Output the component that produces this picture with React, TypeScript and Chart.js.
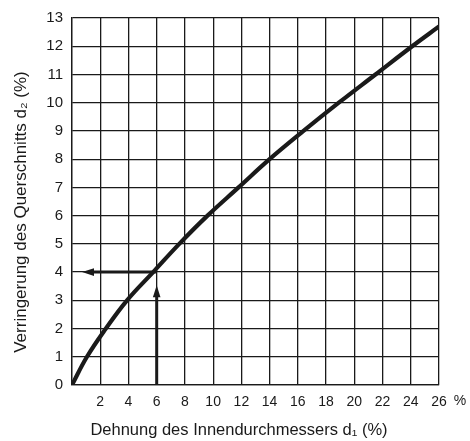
import React, { useEffect, useRef } from "react";
import { Chart, registerables } from "chart.js";

Chart.register(...registerables);

// Dehnung des Innendurchmessers d1 (%)
const xValues = [0, 1.06, 2.4, 3.9, 5.75, 7.6, 9.6, 11.8, 14, 16.4, 18.9, 21.5, 24.1, 26];
// Verringerung des Querschnitts d2 (%)
const yValues = [0, 1, 2, 3, 4, 5, 6, 7, 8, 9, 10, 11, 12, 12.7];

const xTicks = [2, 4, 6, 8, 10, 12, 14, 16, 18, 20, 22, 24, 26];
const yTicks = [0, 1, 2, 3, 4, 5, 6, 7, 8, 9, 10, 11, 12, 13];

const xTitle = "Dehnung des Innendurchmessers d\u2081 (%)";
const yTitle = "Verringerung des Querschnitts d\u2082 (%)";
const xUnit = "%";

// reading example arrows: vertical from (6,0) to tip (6,3.53); horizontal from (6,4) to tip (0.71,4)
const arrowUp = { x: 6, yFrom: 0, yTip: 3.53 };
const arrowLeft = { y: 4, xFrom: 6, xTip: 0.71 };

const FONT = "'Liberation Sans', Arial, Helvetica, sans-serif";
const INK = "#1a1a1a";

const overlay = {
  id: "overlay",
  afterDatasetsDraw(chart: any) {
    const { ctx, scales } = chart;
    const xs = scales.x;
    const ys = scales.y;
    const headLen = 12;
    const headHalf = 3.8;
    ctx.save();
    ctx.strokeStyle = INK;
    ctx.fillStyle = INK;
    ctx.lineWidth = 3;
    ctx.lineCap = "butt";

    // vertical arrow
    const vx = xs.getPixelForValue(arrowUp.x);
    const vy0 = ys.getPixelForValue(arrowUp.yFrom);
    const vyt = ys.getPixelForValue(arrowUp.yTip);
    ctx.beginPath();
    ctx.moveTo(vx, vy0);
    ctx.lineTo(vx, vyt + headLen - 1);
    ctx.stroke();
    ctx.beginPath();
    ctx.moveTo(vx, vyt);
    ctx.lineTo(vx - headHalf, vyt + headLen);
    ctx.lineTo(vx + headHalf, vyt + headLen);
    ctx.closePath();
    ctx.fill();

    // horizontal arrow
    const hy = ys.getPixelForValue(arrowLeft.y);
    const hx0 = xs.getPixelForValue(arrowLeft.xFrom);
    const hxt = xs.getPixelForValue(arrowLeft.xTip);
    ctx.beginPath();
    ctx.moveTo(hx0, hy);
    ctx.lineTo(hxt + headLen - 1, hy);
    ctx.stroke();
    ctx.beginPath();
    ctx.moveTo(hxt, hy);
    ctx.lineTo(hxt + headLen, hy - headHalf);
    ctx.lineTo(hxt + headLen, hy + headHalf);
    ctx.closePath();
    ctx.fill();

    // unit "%" after last x tick
    ctx.font = `14px ${FONT}`;
    ctx.textAlign = "center";
    ctx.textBaseline = "middle";
    ctx.fillText(xUnit, xs.right + 21, ys.bottom + 16);

    // axis titles
    ctx.font = `16.5px ${FONT}`;
    ctx.fillText(xTitle, xs.left + 167, ys.bottom + 45);
    ctx.save();
    ctx.translate(21, ys.top + 194);
    ctx.rotate(-Math.PI / 2);
    ctx.font = `17px ${FONT}`;
    ctx.fillText(yTitle, 0, 0);
    ctx.restore();
    ctx.restore();
  },
};

export default function App() {
  const ref = useRef<HTMLCanvasElement | null>(null);
  useEffect(() => {
    document.body.style.margin = "0";
    const canvas = ref.current;
    if (!canvas) return;
    const chart = new Chart(canvas, {
      type: "line",
      data: {
        datasets: [
          {
            data: xValues.map((x, i) => ({ x, y: yValues[i] })),
            borderColor: INK,
            borderWidth: 4.2,
            pointRadius: 0,
            tension: 0.4,
            fill: false,
          },
        ],
      },
      options: {
        animation: false,
        responsive: false,
        maintainAspectRatio: false,
        layout: { padding: { top: 13, right: 31, left: 0, bottom: 0 } },
        plugins: { legend: { display: false }, tooltip: { enabled: false } },
        scales: {
          x: {
            type: "linear",
            min: 0,
            max: 26,
            afterBuildTicks: (s: any) => {
              s.ticks = [0, ...xTicks].map((v) => ({ value: v }));
            },
            afterFit: (s: any) => {
              s.height = 56;
            },
            ticks: {
              autoSkip: false,
              maxRotation: 0,
              padding: 9,
              color: INK,
              font: { family: FONT, size: 14 },
              callback: (v: any) => (v === 0 ? "" : String(v)),
            },
            grid: { color: INK, lineWidth: 1.3, drawTicks: false },
            border: { color: INK, width: 1.3 },
            title: { display: false },
          },
          y: {
            type: "linear",
            min: 0,
            max: 13,
            afterBuildTicks: (s: any) => {
              s.ticks = yTicks.map((v) => ({ value: v }));
            },
            afterFit: (s: any) => {
              s.width = 72;
            },
            ticks: {
              autoSkip: false,
              padding: 9,
              color: INK,
              font: { family: FONT, size: 15 },
            },
            grid: { color: INK, lineWidth: 1.3, drawTicks: false },
            border: { color: INK, width: 1.3 },
            title: { display: false },
          },
        },
      },
      plugins: [overlay],
    } as any);
    return () => chart.destroy();
  }, []);
  return (
    <div style={{ width: 470, height: 441, background: "#fff" }}>
      <canvas ref={ref} width={470} height={441} style={{ display: "block" }} />
    </div>
  );
}
